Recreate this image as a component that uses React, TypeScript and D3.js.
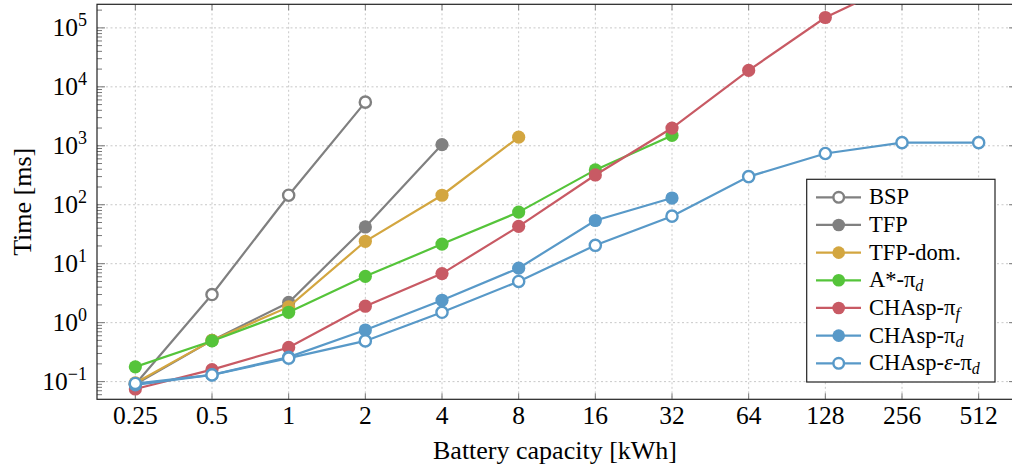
import React, { useEffect, useRef } from 'react';
import * as d3 from 'd3';

// categories (battery capacity, kWh)
const xLabels = ['0.25', '0.5', '1', '2', '4', '8', '16', '32', '64', '128', '256', '512'];

// run times [ms], one value per category from the left
const bsp = [0.09, 3, 145, 5500];
const tfp = [0.09, 0.5, 2.2, 42, 1050];
const tfpDom = [0.095, 0.5, 1.85, 24, 145, 1400];
const aStarD = [0.178, 0.49, 1.5, 6.1, 21.5, 75, 390, 1500];
const chaspF = [0.075, 0.16, 0.38, 1.9, 6.8, 43, 320, 2000, 19000, 150000, 620000];
const chaspD = [0.088, 0.13, 0.26, 0.75, 2.4, 8.4, 54, 130];
const chaspEps = [0.093, 0.13, 0.25, 0.49, 1.5, 5.0, 20.5, 64, 300, 740, 1130, 1130];

const yExponents = [-1, 0, 1, 2, 3, 4, 5];

const series = [
  { name: 'BSP', values: bsp, color: '#808080', open: true },
  { name: 'TFP', values: tfp, color: '#808080', open: false },
  { name: 'TFP-dom.', values: tfpDom, color: '#d3a640', open: false },
  { name: 'A*', values: aStarD, color: '#55c43a', open: false },
  { name: 'CHAsp-f', values: chaspF, color: '#c85a64', open: false },
  { name: 'CHAsp-d', values: chaspD, color: '#5899c8', open: false },
  { name: 'CHAsp-eps', values: chaspEps, color: '#5899c8', open: true },
];

const W = 1012;
const H = 468;
const margin = { left: 97, right: 1017, top: 4.3, bottom: 399.3 };
const FONT = "'Liberation Serif', 'Times New Roman', Times, 'DejaVu Serif', serif";

const App = () => {
  const svgRef = useRef(null);

  useEffect(() => {
    const svg = d3.select(svgRef.current);
    svg.selectAll('*').remove();

    const x = d3.scaleLinear().domain([-0.5, 11.5]).range([margin.left, margin.right]);
    const y = d3.scaleLog().domain([Math.pow(10, -1.3), Math.pow(10, 5.4)]).range([margin.bottom, margin.top]);

    svg.append('defs').append('clipPath').attr('id', 'plotclip')
      .append('rect')
      .attr('x', margin.left).attr('y', margin.top)
      .attr('width', margin.right - margin.left)
      .attr('height', margin.bottom - margin.top);

    // grid
    const grid = svg.append('g')
      .attr('stroke', '#c8c8c8').attr('stroke-width', 1).attr('stroke-dasharray', '2,2.5');
    xLabels.forEach((_, i) => {
      grid.append('line').attr('x1', x(i)).attr('x2', x(i)).attr('y1', margin.top).attr('y2', margin.bottom);
    });
    yExponents.forEach(e => {
      const v = Math.pow(10, e);
      grid.append('line').attr('x1', margin.left).attr('x2', margin.right).attr('y1', y(v)).attr('y2', y(v));
    });

    // ticks
    const ticks = svg.append('g').attr('stroke', '#777').attr('stroke-width', 1);
    xLabels.forEach((_, i) => {
      ticks.append('line').attr('x1', x(i)).attr('x2', x(i)).attr('y1', margin.bottom).attr('y2', margin.bottom - 6);
      ticks.append('line').attr('x1', x(i)).attr('x2', x(i)).attr('y1', margin.top).attr('y2', margin.top + 6);
    });
    for (let e = -2; e <= 5; e++) {
      for (let m = 1; m <= 9; m++) {
        const v = m * Math.pow(10, e);
        const py = y(v);
        if (py > margin.bottom || py < margin.top) continue;
        const len = m === 1 ? 8 : 5;
        ticks.append('line').attr('x1', margin.left).attr('x2', margin.left + len).attr('y1', py).attr('y2', py);
        ticks.append('line').attr('x1', margin.right).attr('x2', margin.right - len).attr('y1', py).attr('y2', py);
      }
    }

    // frame
    svg.append('rect')
      .attr('x', margin.left).attr('y', margin.top)
      .attr('width', margin.right - margin.left)
      .attr('height', margin.bottom - margin.top)
      .attr('fill', 'none').attr('stroke', '#222').attr('stroke-width', 1.2);

    // tick labels
    xLabels.forEach((lab, i) => {
      svg.append('text')
        .attr('x', x(i)).attr('y', 424)
        .attr('text-anchor', 'middle')
        .style('font-family', FONT).attr('font-size', 25.5)
        .text(lab);
    });
    yExponents.forEach(e => {
      const t = svg.append('text')
        .attr('x', 87).attr('y', y(Math.pow(10, e)) + 8.5)
        .attr('text-anchor', 'end')
        .style('font-family', FONT).attr('font-size', 25.5);
      t.append('tspan').text('10');
      t.append('tspan').attr('dy', -10).attr('font-size', 18).text(e < 0 ? '\u2212' + (-e) : String(e));
    });

    // axis labels
    svg.append('text')
      .attr('x', (margin.left + margin.right) / 2 - 2).attr('y', 459)
      .attr('text-anchor', 'middle')
      .style('font-family', FONT).attr('font-size', 26)
      .text('Battery capacity [kWh]');
    svg.append('text')
      .attr('transform', `translate(31,${(margin.top + margin.bottom) / 2}) rotate(-90)`)
      .attr('text-anchor', 'middle')
      .style('font-family', FONT).attr('font-size', 26)
      .text('Time [ms]');

    // series
    const line = d3.line().x(d => x(d[0])).y(d => y(d[1]));
    const plot = svg.append('g').attr('clip-path', 'url(#plotclip)');
    series.forEach(s => {
      const pts = s.values.map((v, i) => [i, v]);
      plot.append('path')
        .datum(pts)
        .attr('fill', 'none')
        .attr('stroke', s.color)
        .attr('stroke-width', 2.2)
        .attr('d', line);
      plot.selectAll(null)
        .data(pts)
        .enter()
        .append('circle')
        .attr('cx', d => x(d[0]))
        .attr('cy', d => y(d[1]))
        .attr('r', s.open ? 5.6 : 6.6)
        .attr('fill', s.open ? '#fff' : s.color)
        .attr('stroke', s.open ? s.color : 'none')
        .attr('stroke-width', 2.4);
    });

    // legend
    const lg = svg.append('g');
    lg.append('rect')
      .attr('x', 806.7).attr('y', 179.3).attr('width', 188.3).attr('height', 202.7)
      .attr('fill', '#fff').attr('stroke', '#222').attr('stroke-width', 1.2);
    const rowY = d3.scaleLinear().domain([0, 6]).range([197.3, 363.3]);
    series.forEach((s, i) => {
      const yy = rowY(i);
      lg.append('line').attr('x1', 816).attr('x2', 861).attr('y1', yy).attr('y2', yy)
        .attr('stroke', s.color).attr('stroke-width', 2.2);
      lg.append('circle').attr('cx', 838.7).attr('cy', yy)
        .attr('r', s.open ? 5.3 : 6.3)
        .attr('fill', s.open ? '#fff' : s.color)
        .attr('stroke', s.open ? s.color : 'none')
        .attr('stroke-width', 2.4);
      const t = lg.append('text')
        .attr('x', 869).attr('y', yy + 7)
        .style('font-family', FONT).attr('font-size', 22.5);
      if (s.name === 'A*') {
        t.append('tspan').text('A*-\u03c0');
        t.append('tspan').attr('dy', 4).attr('font-size', 16).attr('font-style', 'italic').text('d');
      } else if (s.name === 'CHAsp-f') {
        t.append('tspan').text('CHAsp-\u03c0');
        t.append('tspan').attr('dy', 4).attr('font-size', 16).attr('font-style', 'italic').text('f');
      } else if (s.name === 'CHAsp-d') {
        t.append('tspan').text('CHAsp-\u03c0');
        t.append('tspan').attr('dy', 4).attr('font-size', 16).attr('font-style', 'italic').text('d');
      } else if (s.name === 'CHAsp-eps') {
        t.append('tspan').text('CHAsp-');
        t.append('tspan').attr('font-style', 'italic').text('\u03b5');
        t.append('tspan').text('-\u03c0');
        t.append('tspan').attr('dy', 4).attr('font-size', 16).attr('font-style', 'italic').text('d');
      } else {
        t.text(s.name);
      }
    });
  }, []);

  return (
    <svg
      ref={svgRef}
      width={W}
      height={H}
      style={{ position: 'absolute', left: 0, top: 0, background: '#fff' }}
    />
  );
};

export default App;
